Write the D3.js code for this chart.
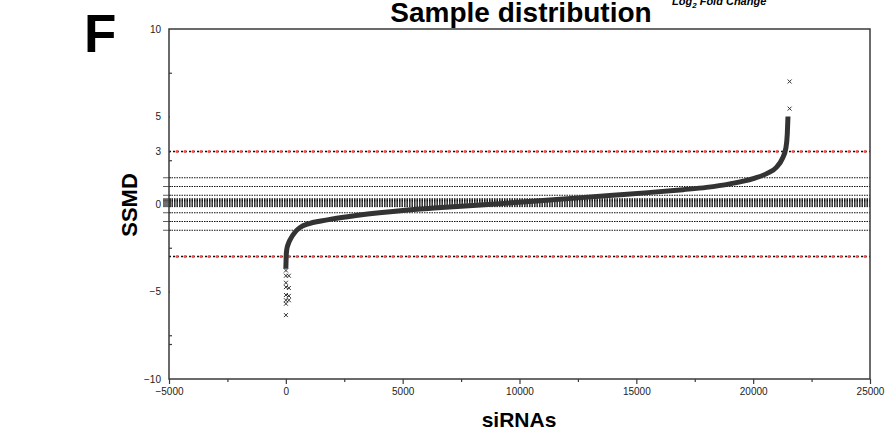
<!DOCTYPE html>
<html lang="en">
<head>
	<meta charset="UTF-8">
	<title>Sample distribution</title>
	<script src="https://cdn.jsdelivr.net/npm/d3@7/dist/d3.min.js"></script>
	<style>
		body { margin: 0; background: #fff; }
		text { font-family: Arial, "Liberation Sans", sans-serif; }
	</style>
</head>
<body>
	<script>
	// sorted SSMD curve: [rank, ssmd]
	let curvePoints = [
		[0, -3.7], [15, -3.0], [40, -2.6], [100, -2.3], [200, -2.0], [400, -1.6],
		[600, -1.35], [1000, -1.12], [1500, -0.97], [2000, -0.85], [3000, -0.66],
		[4000, -0.5], [5000, -0.37], [6500, -0.22], [8000, -0.08], [9500, 0.05],
		[11000, 0.2], [12500, 0.35], [14000, 0.5], [15500, 0.65], [17000, 0.82],
		[18000, 0.95], [19000, 1.15], [20000, 1.45], [20600, 1.75], [21000, 2.1],
		[21250, 2.6], [21400, 3.2], [21460, 4.0], [21490, 5.0]
	]
	// single siRNAs drawn as x marks beyond the ends of the curve
	let lowOutliers = [
		[5, -3.8], [5, -4.1], [130, -4.1], [5, -4.5], [5, -4.75], [130, -4.8],
		[5, -5.2], [130, -5.25], [5, -5.5], [130, -5.5], [5, -5.7], [5, -6.35]
	]
	let highOutliers = [[21560, 5.45], [21560, 7.0]]

	let hitLines = [3, -3]
	let foldLines = [1.5, 1, 0.5, 0.3, 0.25, 0.2, 0.15, 0.1, 0.05, 0, -0.05, -0.1, -0.15, -0.5, -1, -1.5]

	let xTicks = [-5000, 0, 5000, 10000, 15000, 20000, 25000]
	let xMinor = [-2500, 2500, 7500, 12500, 17500, 22500]
	let yTicks = [-10, -5, 0, 3, 5, 10]
	let yMinor = [7.5, 2.5, -2.5, -7.5, -8]

	let width = 890,
		height = 438;

	let svg = d3.select('body').append('svg')
		.attr('width', width)
		.attr('height', height)

	let x = d3.scaleLinear()
		.domain([-5000, 25000])
		.range([169, 870])

	let y = d3.scaleLinear()
		.domain([-10, 10])
		.range([379, 29])

	let axisColor = '#3a3a3a'

	/* reference lines */

	let fold = svg.append('g')
	fold.selectAll('line.tick')
		.data(foldLines)
		.enter()
		.append('line')
		.attr('x1', x(-5000) - 6)
		.attr('x2', x(-5000) + 2)
		.attr('y1', d => y(d))
		.attr('y2', d => y(d))
		.attr('stroke', '#333')
		.attr('stroke-width', 0.8)
	fold.selectAll('line.dot')
		.data(foldLines)
		.enter()
		.append('line')
		.attr('x1', x(-5000))
		.attr('x2', x(25000))
		.attr('y1', d => y(d))
		.attr('y2', d => y(d))
		.attr('stroke', '#111')
		.attr('stroke-width', 1)
		.attr('stroke-dasharray', '1.5,1')

	let hit = svg.append('g')
	hit.selectAll('line')
		.data(hitLines)
		.enter()
		.append('line')
		.attr('x1', x(-5000))
		.attr('x2', x(25000))
		.attr('y1', d => y(d))
		.attr('y2', d => y(d))
		.attr('stroke', '#111')
		.attr('stroke-width', 1.4)
		.attr('stroke-dasharray', '2,2')

	let dotX = d3.range(x(-5000) + 8, x(25000), 8)
	hitLines.forEach(v => {
		hit.append('g').selectAll('circle')
			.data(dotX)
			.enter()
			.append('circle')
			.attr('cx', d => d)
			.attr('cy', y(v))
			.attr('r', 1.5)
			.attr('fill', '#ff4a4a')
	})

	/* curve + outliers */

	let line = d3.line()
		.x(d => x(d[0]))
		.y(d => y(d[1]))
		.curve(d3.curveMonotoneX)

	svg.append('path')
		.datum(curvePoints)
		.attr('d', line)
		.attr('fill', 'none')
		.attr('stroke', '#333')
		.attr('stroke-width', 5)

	let mark = d3.symbol().type(d3.symbolX).size(12)
	svg.append('g').selectAll('path')
		.data(lowOutliers.concat(highOutliers))
		.enter()
		.append('path')
		.attr('d', mark)
		.attr('transform', d => `translate(${x(d[0])},${y(d[1])})`)
		.attr('fill', 'none')
		.attr('stroke', '#333')
		.attr('stroke-width', 1)

	/* frame + axes */

	svg.append('rect')
		.attr('x', x(-5000))
		.attr('y', y(10))
		.attr('width', x(25000) - x(-5000))
		.attr('height', y(-10) - y(10))
		.attr('fill', 'none')
		.attr('stroke', axisColor)
		.attr('stroke-width', 1.5)

	let xAxis = svg.append('g')
		.attr('transform', `translate(0,${y(-10)})`)
		.call(d3.axisBottom(x).tickValues(xTicks).tickSize(5).tickSizeOuter(0).tickPadding(4).tickFormat(d3.format('d')))
	xAxis.append('g')
		.call(d3.axisBottom(x).tickValues(xMinor).tickSize(3).tickSizeOuter(0).tickFormat(''))

	let yAxis = svg.append('g')
		.attr('transform', `translate(${x(-5000)},0)`)
		.call(d3.axisLeft(y).tickValues(yTicks).tickSize(6).tickSizeOuter(0).tickPadding(2))
	yAxis.append('g')
		.call(d3.axisLeft(y).tickValues(yMinor).tickSize(4).tickSizeOuter(0).tickFormat(''))
	yAxis.selectAll('.tick line').attr('x2', d => yMinor.includes(d) ? 3 : 1)

	svg.selectAll('.domain').remove()
	svg.selectAll('.tick line').attr('stroke', axisColor).attr('stroke-width', 1.2)
	svg.selectAll('.tick text')
		.attr('fill', '#222')
		.style('font-size', '10px')
		.style('font-family', 'Arial, "Liberation Sans", sans-serif')

	/* labels */

	svg.append('text')
		.attr('x', 84)
		.attr('y', 52)
		.style('font-size', '53px')
		.style('font-weight', 'bold')
		.text('F')

	svg.append('text')
		.attr('x', 521)
		.attr('y', 22)
		.attr('text-anchor', 'middle')
		.style('font-size', '28px')
		.style('font-weight', 'bold')
		.text('Sample distribution')

	let fc = svg.append('text')
		.attr('x', 672)
		.attr('y', 5)
		.style('font-size', '11px')
		.style('font-weight', 'bold')
		.style('font-style', 'italic')
	fc.append('tspan').text('Log')
	fc.append('tspan').attr('dy', 3).style('font-size', '8px').text('2')
	fc.append('tspan').attr('dy', -3).text(' Fold Change')

	svg.append('text')
		.attr('transform', 'translate(137,205) rotate(-90)')
		.attr('text-anchor', 'middle')
		.style('font-size', '22px')
		.style('font-weight', 'bold')
		.text('SSMD')

	svg.append('text')
		.attr('x', 519)
		.attr('y', 427)
		.attr('text-anchor', 'middle')
		.style('font-size', '21px')
		.style('font-weight', 'bold')
		.text('siRNAs')
	</script>
</body>
</html>
